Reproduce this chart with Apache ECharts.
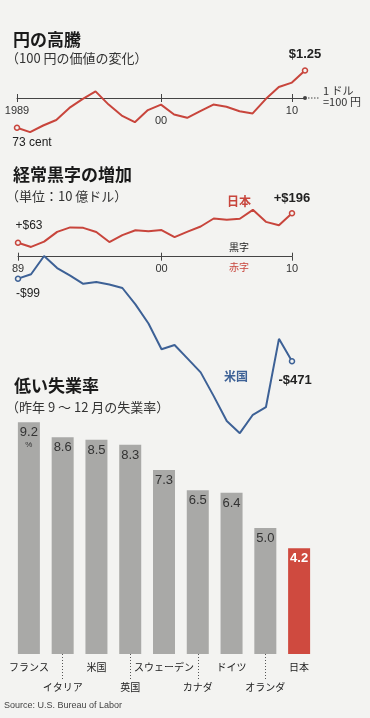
<!DOCTYPE html>
<html><head><meta charset="utf-8">
<script src="https://cdn.jsdelivr.net/npm/echarts@6/dist/echarts.min.js"></script>
<style>html,body{margin:0;padding:0;background:#f3f3f1}#c{width:370px;height:718px}</style>
</head><body><div id="c"></div>
<script>
// ---- data ----
const yenYears = ['1989','1990','1991','1992','1993','1994','1995','1996','1997','1998','1999','2000','2001','2002','2003','2004','2005','2006','2007','2008','2009','2010','2011'];
const yenValue = [0.73,0.69,0.75,0.80,0.91,0.99,1.06,0.94,0.84,0.78,0.89,0.94,0.85,0.82,0.88,0.94,0.92,0.88,0.86,0.99,1.10,1.14,1.25];
const yenTickYears = ['1989','2000','2010'];
const yenTickLabels = ['1989','00','10'];

const caYears = ['1989','1990','1991','1992','1993','1994','1995','1996','1997','1998','1999','2000','2001','2002','2003','2004','2005','2006','2007','2008','2009','2010'];
const japanCA = [63,44,68,112,132,130,111,66,97,119,115,120,88,113,136,172,166,171,211,157,142,196];
const usCA = [-99,-79,3,-51,-85,-122,-114,-125,-141,-215,-301,-417,-398,-459,-521,-628,-740,-795,-712,-678,-370,-471];
const caTickYears = ['1989','2000','2010'];
const caTickLabels = ['89','00','10'];

const countries = ['フランス','イタリア','米国','英国','スウェーデン','カナダ','ドイツ','オランダ','日本'];
const unemployment = [9.2,8.6,8.5,8.3,7.3,6.5,6.4,5.0,4.2];

// ---- style ----
const FONT = '"Liberation Sans", "Noto Sans CJK JP", sans-serif';
const JFONT = '"Noto Sans CJK JP", sans-serif';
const BG = '#f3f3f1';
const RED = '#c8453c';
const BLUE = '#3d6196';
const AX = '#444';

const chart = echarts.init(document.getElementById('c'));

// baseline positions derived from each grid's value scale
const yMin0 = 0.6, yMax0 = 1.4, h0 = 88, base0 = 1;
const yMin1 = -900, yMax1 = 300, h1 = 266.4, base1 = 0;
const fromBottom0 = h0 * (base0 - yMin0) / (yMax0 - yMin0);
const fromBottom1 = h1 * (base1 - yMin1) / (yMax1 - yMin1);

function endItem(v, color, label) {
  return { value: v, symbol: 'circle', symbolSize: 5,
    itemStyle: { color: BG, borderColor: color, borderWidth: 1.5 },
    label: Object.assign({ show: true, fontFamily: FONT, color: '#222' }, label) };
}
function lineData(arr, color, first, last) {
  return arr.map((v, i) => {
    if (i === 0) return endItem(v, color, first);
    if (i === arr.length - 1) return endItem(v, color, last);
    return { value: v, symbol: 'none' };
  });
}

const yenTickFn = (i, v) => yenTickYears.includes(v);
const caTickFn = (i, v) => caTickYears.includes(v);

const option = {
  backgroundColor: BG,
  animation: false,
  textStyle: { fontFamily: FONT },
  grid: [
    { left: 17, right: 65, top: 54, height: h0 },
    { left: 18, right: 78, top: 190.1, height: h1 },
    { left: 12, right: 54, top: 402, height: 252 }
  ],
  xAxis: [
    { gridIndex: 0, type: 'category', boundaryGap: false, data: yenYears, position: 'bottom', offset: -fromBottom0,
      axisLine: { onZero: false, lineStyle: { color: AX, width: 1 }, symbol: ['none', 'circle'], symbolSize: [4, 4] },
      axisTick: { interval: yenTickFn, length: 4, lineStyle: { color: AX } },
      axisLabel: { interval: yenTickFn, margin: 7, color: '#333', fontSize: 11, fontFamily: FONT,
        formatter: v => { const k = yenTickYears.indexOf(v); return k === 1 ? '{b|' + yenTickLabels[k] + '}' : '{a|' + yenTickLabels[k] + '}'; },
        rich: { a: { fontSize: 11, fontFamily: FONT, color: '#333' }, b: { fontSize: 11, fontFamily: FONT, color: '#333', padding: [10, 0, 0, 0] } } } },
    { gridIndex: 0, type: 'category', boundaryGap: false, data: yenYears, position: 'top', offset: -(h0 - fromBottom0),
      axisLine: { show: false, onZero: false }, axisLabel: { show: false },
      axisTick: { interval: yenTickFn, length: 4, lineStyle: { color: AX } } },
    { gridIndex: 1, type: 'category', boundaryGap: false, data: caYears, position: 'bottom', offset: -fromBottom1,
      axisLine: { onZero: false, lineStyle: { color: AX, width: 1 } },
      axisTick: { interval: caTickFn, length: 4, lineStyle: { color: AX } },
      axisLabel: { interval: caTickFn, margin: 7, color: '#333', fontSize: 11, fontFamily: FONT,
        formatter: v => caTickLabels[caTickYears.indexOf(v)] } },
    { gridIndex: 1, type: 'category', boundaryGap: false, data: caYears, position: 'top', offset: -(h1 - fromBottom1),
      axisLine: { show: false, onZero: false }, axisLabel: { show: false },
      axisTick: { interval: caTickFn, length: 4, lineStyle: { color: AX } } },
    { gridIndex: 2, type: 'category', data: countries,
      axisLine: { show: false },
      axisTick: { show: true, alignWithLabel: true, interval: (i) => i % 2 === 1, length: 26,
        lineStyle: { color: '#555', type: [1, 2], width: 1 } },
      axisLabel: { interval: 0, margin: 8, color: '#222',
        formatter: (v, i) => (i % 2 === 1 ? '{b|' + v + '}' : '{a|' + v + '}'),
        rich: { a: { fontSize: 10, fontFamily: JFONT, color: '#222' },
                b: { fontSize: 10, fontFamily: JFONT, color: '#222', padding: [20, 0, 0, 0] } } } }
  ],
  yAxis: [
    { gridIndex: 0, type: 'value', min: yMin0, max: yMax0, show: false },
    { gridIndex: 1, type: 'value', min: yMin1, max: yMax1, show: false },
    { gridIndex: 2, type: 'value', min: 0, max: 10, show: false }
  ],
  series: [
    { type: 'line', xAxisIndex: 0, yAxisIndex: 0, showAllSymbol: true, symbol: 'none',
      lineStyle: { color: RED, width: 2 }, itemStyle: { color: RED },
      data: lineData(yenValue, RED,
        { position: 'bottom', distance: 6, offset: [15, 0], fontSize: 12, formatter: p => Math.round(p.value * 100) + ' cent' },
        { position: 'top', distance: 6, fontSize: 13, fontWeight: 'bold', formatter: p => '$' + p.value.toFixed(2) }) },
    { type: 'line', xAxisIndex: 2, yAxisIndex: 1, showAllSymbol: true, symbol: 'none',
      lineStyle: { color: RED, width: 2 }, itemStyle: { color: RED },
      data: lineData(japanCA, RED,
        { position: 'top', distance: 8, offset: [11, 0], fontSize: 12, formatter: p => '+$' + p.value },
        { position: 'top', distance: 5, fontSize: 13, fontWeight: 'bold', formatter: p => '+$' + p.value }) },
    { type: 'line', xAxisIndex: 2, yAxisIndex: 1, showAllSymbol: true, symbol: 'none',
      lineStyle: { color: BLUE, width: 2 }, itemStyle: { color: BLUE },
      data: lineData(usCA, BLUE,
        { position: 'bottom', distance: 6, offset: [10, 0], fontSize: 12, formatter: p => '-$' + Math.abs(p.value) },
        { position: 'bottom', distance: 9, offset: [3, 0], fontSize: 13, fontWeight: 'bold', formatter: p => '-$' + Math.abs(p.value) }) },
    { type: 'bar', xAxisIndex: 4, yAxisIndex: 2, barWidth: 22,
      data: unemployment.map((v, i) => {
        const last = i === unemployment.length - 1;
        return { value: v,
          itemStyle: { color: last ? '#cf4a3f' : '#a9a9a7' },
          label: { show: true, position: 'insideTop', distance: 4,
            fontFamily: FONT, fontSize: 13, color: last ? '#fff' : '#333', fontWeight: last ? 'bold' : 'normal',
            formatter: p => i === 0 ? p.value.toFixed(1) + '\n{p|%}' : p.value.toFixed(1),
            rich: { p: { fontSize: 8, color: '#333', fontFamily: FONT, padding: [2, 0, 0, 0] } } } };
      }) }
  ]
};
chart.setOption(option);

// dotted continuation of the "1 dollar = 100 yen" baseline
const endPt = chart.convertToPixel({ xAxisIndex: 0, yAxisIndex: 0 }, [yenYears[yenYears.length - 1], base0]);

function txt(text, x, y, size, opts) {
  return { type: 'text', silent: true, style: Object.assign({
    text: text, x: x, y: y, fontSize: size, fontFamily: JFONT, fill: '#222',
    align: 'left', verticalAlign: 'middle', textAlign: 'left', textVerticalAlign: 'middle' }, opts || {}) };
}
chart.setOption({
  graphic: [
    { type: 'line', silent: true, shape: { x1: endPt[0] + 3, y1: endPt[1], x2: endPt[0] + 15, y2: endPt[1] },
      style: { stroke: AX, lineWidth: 1, lineDash: [1.5, 1.5] } },
    txt('円の高騰', 13, 40, 17, { fontWeight: 'bold', fill: '#1a1a1a' }),
    txt('（100 円の価値の変化）', 6, 58, 13, { fill: '#333' }),
    txt('経常黒字の増加', 13, 175, 17, { fontWeight: 'bold', fill: '#1a1a1a' }),
    txt('（単位：10 億ドル）', 6, 196, 13, { fill: '#333' }),
    txt('低い失業率', 14, 386, 17, { fontWeight: 'bold', fill: '#1a1a1a' }),
    txt('（昨年 9 ～ 12 月の失業率）', 6, 407, 13, { fill: '#333' }),
    txt('1 ドル', 323, 91, 11, { fill: '#333' }),
    txt('=100 円', 323, 102, 11, { fill: '#333' }),
    txt('日本', 239, 201, 12, { fontWeight: 'bold', fill: RED, align: 'center', textAlign: 'center' }),
    txt('黒字', 239, 247, 10, { fill: '#222', align: 'center', textAlign: 'center' }),
    txt('赤字', 239, 267, 10, { fill: RED, align: 'center', textAlign: 'center' }),
    txt('米国', 236, 376, 12, { fontWeight: 'bold', fill: BLUE, align: 'center', textAlign: 'center' }),
    txt('Source: U.S. Bureau of Labor', 4, 706, 9, { fill: '#444', fontFamily: FONT })
  ]
});
</script></body></html>
